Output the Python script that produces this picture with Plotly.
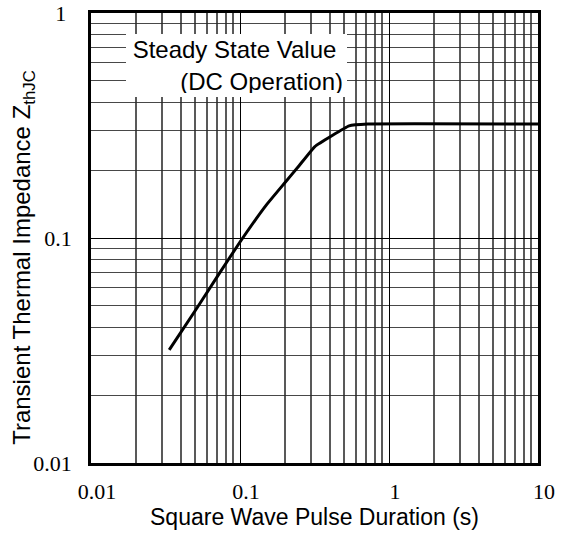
import plotly.graph_objects as go

# Curve data
pulse_s = [0.0335, 0.05, 0.07, 0.1, 0.15, 0.2, 0.25, 0.318, 0.54, 0.72, 10]
zthjc = [0.0318, 0.0475, 0.067, 0.096, 0.14, 0.176, 0.21, 0.255, 0.315, 0.321, 0.321]

x_ticks = [0.01, 0.1, 1, 10]
x_ticktext = ["0.01", "0.1", "1", "10"]
y_ticks = [0.01, 0.1, 1]
y_ticktext = ["0.01", "0.1", "1&nbsp;"]

x_minor = [m * 10 ** e for e in (-2, -1, 0) for m in range(2, 10)]
y_minor = [m * 10 ** e for e in (-2, -1) for m in range(2, 10)]

fig = go.Figure()
fig.add_trace(go.Scatter(
    x=pulse_s, y=zthjc, mode="lines",
    line=dict(color="black", width=3, shape="spline", smoothing=0.3),
    showlegend=False, hoverinfo="skip",
))

tick_font = dict(family="Liberation Serif, Times New Roman, serif", size=22, color="black")
xtitle_font = dict(family="Liberation Sans, Arial, sans-serif", size=23, color="black")
ytitle_font = dict(family="Liberation Sans, Arial, sans-serif", size=24, color="black")

fig.update_xaxes(
    type="log", range=[-2, 1], automargin=False,
    tickvals=x_ticks, ticktext=x_ticktext, tickfont=tick_font,
    ticks="", ticklabelshift=6, ticklabelstandoff=7,
    showgrid=True, gridcolor="black", gridwidth=1.2,
    minor=dict(tickvals=x_minor, showgrid=True, gridcolor="rgba(60,60,60,0.85)", gridwidth=1.6, ticks=""),
    showline=True, linecolor="black", linewidth=2.5, mirror=True,
    title=dict(text="Square Wave Pulse Duration (s)", font=xtitle_font, standoff=6),
    zeroline=False,
)
fig.update_yaxes(
    type="log", range=[-2, 0], automargin=False,
    tickvals=y_ticks, ticktext=y_ticktext, tickfont=tick_font,
    ticks="", ticklabelstandoff=12,
    showgrid=True, gridcolor="black", gridwidth=1.2,
    minor=dict(tickvals=y_minor, showgrid=True, gridcolor="rgba(40,40,40,0.85)", gridwidth=1.3, ticks=""),
    showline=True, linecolor="black", linewidth=2.5, mirror=True,
    zeroline=False,
)

# y-axis title
fig.add_annotation(
    xref="paper", yref="paper", x=-0.151, y=0.457,
    xanchor="center", yanchor="middle", textangle=-90,
    text="Transient Thermal Impedance Z<sub>thJC</sub>",
    showarrow=False, font=ytitle_font,
)

fig.add_annotation(
    xref="paper", yref="paper", x=0.078, y=0.953,
    xanchor="left", yanchor="top",
    text="Steady State Value&nbsp;<br>(DC Operation)",
    align="right", showarrow=False,
    font=dict(family="Liberation Sans, Arial, sans-serif", size=24, color="black"),
    bgcolor="white", borderpad=4, borderwidth=0,
    width=213, height=55,
)

fig.update_layout(
    template="none",
    width=567, height=536,
    margin=dict(l=91, r=29, t=13, b=73),
    plot_bgcolor="white", paper_bgcolor="white",
)

fig.write_html(
    "out.html",
    config={"displayModeBar": False},
    post_script="document.body.style.margin='0';document.body.style.padding='0';",
)
